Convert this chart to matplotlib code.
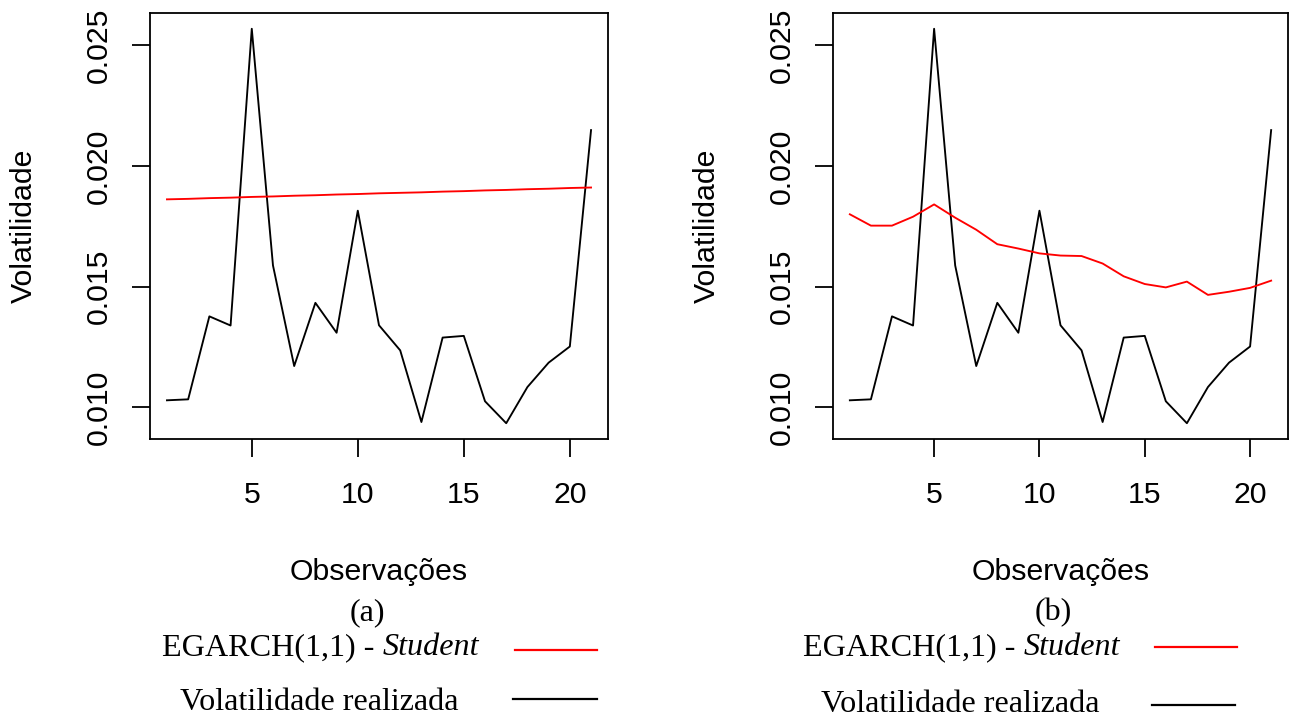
import numpy as np
import matplotlib
matplotlib.use("Agg")
import matplotlib.pyplot as plt
from matplotlib.lines import Line2D
from matplotlib.ticker import FormatStrFormatter

# Observações 1..21
obs = list(range(1, 22))

# volatilidade realizada (igual nos dois painéis)
vol_realizada = [0.01029, 0.01033, 0.01377, 0.01339, 0.02569, 0.01588, 0.01171,
                 0.01433, 0.01309, 0.01815, 0.01340, 0.01236, 0.00939, 0.01289,
                 0.01296, 0.01025, 0.00934, 0.01084, 0.01185, 0.01252, 0.02149]

# previsões EGARCH(1,1) - Student
egarch_a = [0.01862, 0.01864, 0.01867, 0.01869, 0.01872, 0.01874, 0.01877,
            0.01879, 0.01882, 0.01884, 0.01887, 0.01889, 0.01891, 0.01894,
            0.01896, 0.01899, 0.01901, 0.01904, 0.01906, 0.01909, 0.01911]
egarch_b = [0.01800, 0.01753, 0.01753, 0.01790, 0.01841, 0.01786, 0.01736,
            0.01676, 0.01658, 0.01638, 0.01629, 0.01627, 0.01596, 0.01543,
            0.01511, 0.01497, 0.01521, 0.01466, 0.01479, 0.01495, 0.01525]

xticks = [5, 10, 15, 20]
yticks = [0.010, 0.015, 0.020, 0.025]
paineis = ["(a)", "(b)"]
leg_modelo = "EGARCH(1,1) -"
leg_dist = "Student"
leg_real = "Volatilidade realizada"

W, H = 1293, 718
SANS = "Liberation Sans"
SERIF = "Liberation Serif"
FS_SANS = 21.8
FS_SERIF = 23.1


def fx(x):
    return x / W


def fy(y):
    return 1 - y / H


def r_lim(v):
    # limites no estilo do R (4% de folga)
    lo, hi = min(v), max(v)
    d = (hi - lo) * 0.04
    return lo - d, hi + d


fig = plt.figure(figsize=(W / 100, H / 100), dpi=100)

# caixas dos eixos em pixels: (esquerda, topo, direita, base)
caixas = [(150, 13, 608, 439), (833, 13, 1288, 439)]
series = [egarch_a, egarch_b]

for (l, t, r, b), pred in zip(caixas, series):
    ax = fig.add_axes([fx(l), fy(b), (r - l) / W, (b - t) / H])
    ax.plot(obs, vol_realizada, color="black", lw=1.35)
    ax.plot(obs, pred, color="#ff0000", lw=1.35)
    ax.set_xlim(r_lim(obs))
    ax.set_ylim(r_lim(vol_realizada + pred))
    ax.set_xticks(xticks)
    ax.set_yticks(yticks)
    ax.yaxis.set_major_formatter(FormatStrFormatter("%.3f"))
    ax.tick_params(length=13, width=1.3, pad=13.5, labelsize=FS_SANS)
    ax.tick_params(axis="x", pad=17)
    for lbl in ax.get_xticklabels() + ax.get_yticklabels():
        lbl.set_fontfamily(SANS)
    for lbl in ax.get_yticklabels():
        lbl.set_rotation(90)
        lbl.set_va("center")
    for s in ax.spines.values():
        s.set_linewidth(1.3)
    ax.set_ylabel("Volatilidade", fontsize=FS_SANS, fontfamily=SANS)
    ax.yaxis.label.set_va("center")
    ax.yaxis.set_label_coords(-126 / (r - l), 0.5)
    ax.set_xlabel("Observações", fontsize=FS_SANS, fontfamily=SANS)
    ax.xaxis.label.set_va("baseline")
    ax.xaxis.set_label_coords(0.5, (b - 580) / (b - t))

# subtítulos e legenda em serifa
cap_x = [367, 1053]
modelo_x = [162, 803]
modelo_y = [655, 655]
real_x = [180, 821]
real_y = [710, 712]
linha_verm = [(515, 597, 650), (1155, 1237, 647)]
linha_preta = [(513, 597, 699), (1152, 1235, 705)]

for i in range(2):
    fig.text(fx(cap_x[i]), fy(620), paineis[i], ha="center", va="baseline",
             fontsize=FS_SERIF, fontfamily=SERIF)
    t1 = fig.text(fx(modelo_x[i]), fy(modelo_y[i]), leg_modelo, ha="left",
                  va="baseline", fontsize=FS_SERIF, fontfamily=SERIF)
    # "Student" em itálico logo após o nome do modelo
    fig.add_artist(plt.Annotation(leg_dist, xy=(1, 0), xycoords=t1,
                                  xytext=(5.8, 0), textcoords="offset points",
                                  ha="left", va="bottom", fontsize=FS_SERIF,
                                  fontfamily=SERIF, style="italic"))
    fig.text(fx(real_x[i]), fy(real_y[i]), leg_real, ha="left", va="baseline",
             fontsize=FS_SERIF, fontfamily=SERIF)
    x0, x1, y = linha_verm[i]
    fig.add_artist(Line2D([fx(x0), fx(x1)], [fy(y), fy(y)], color="#ff0000",
                          lw=1.6, transform=fig.transFigure))
    x0, x1, y = linha_preta[i]
    fig.add_artist(Line2D([fx(x0), fx(x1)], [fy(y), fy(y)], color="black",
                          lw=1.6, transform=fig.transFigure))

fig.savefig("out.png", dpi=100)
